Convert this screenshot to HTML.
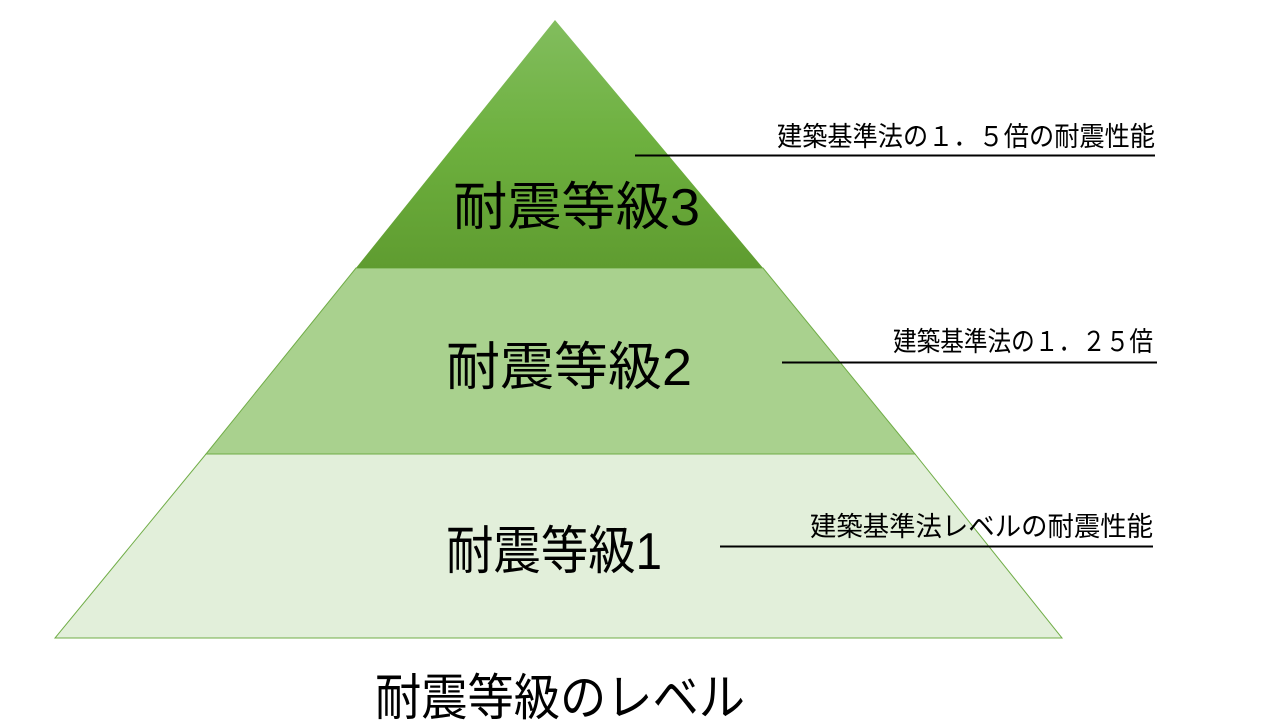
<!DOCTYPE html>
<html><head><meta charset="utf-8"><style>
html,body{margin:0;padding:0;background:#fff;width:1280px;height:720px;overflow:hidden}
svg text{font-family:"Liberation Sans","Noto Sans CJK JP",sans-serif;fill:#000}
</style></head><body>
<svg width="1280" height="720" viewBox="0 0 1280 720" xmlns="http://www.w3.org/2000/svg">
<defs>
<linearGradient id="g3" x1="0" y1="0" x2="0" y2="1">
<stop offset="0" stop-color="#82bd5e"/><stop offset="0.5" stop-color="#6db03e"/><stop offset="1" stop-color="#5f9c30"/>
</linearGradient>
</defs>
<polygon points="55,638 1062,638 915,454 206,454" fill="#e2efda" stroke="#70ad47" stroke-width="1"/>
<polygon points="206,454 915,454 763,268 356,268" fill="#a9d18e" stroke="#70ad47" stroke-width="1"/>
<polygon points="356,268 763,268 555,20" fill="url(#g3)"/>
<line x1="635" y1="155.5" x2="1155" y2="155.5" stroke="#000" stroke-width="2"/>
<line x1="782" y1="362.5" x2="1157" y2="362.5" stroke="#000" stroke-width="2"/>
<line x1="720" y1="546.5" x2="1153" y2="546.5" stroke="#000" stroke-width="2"/>
<text x="777" y="146" font-size="27" textLength="378" lengthAdjust="spacingAndGlyphs">建築基準法の１．５倍の耐震性能</text>
<text x="893" y="351" font-size="27" textLength="260" lengthAdjust="spacingAndGlyphs">建築基準法の１．２５倍</text>
<text x="810" y="536" font-size="27" textLength="343" lengthAdjust="spacingAndGlyphs">建築基準法レベルの耐震性能</text>
<text x="453" y="225" font-size="52" textLength="247" lengthAdjust="spacingAndGlyphs">耐震等級3</text>
<text x="446" y="385" font-size="52" textLength="246" lengthAdjust="spacingAndGlyphs">耐震等級2</text>
<text x="446" y="569" font-size="52" textLength="216" lengthAdjust="spacingAndGlyphs">耐震等級1</text>
<text x="375" y="715" font-size="50" textLength="370" lengthAdjust="spacingAndGlyphs">耐震等級のレベル</text>
</svg>
</body></html>
